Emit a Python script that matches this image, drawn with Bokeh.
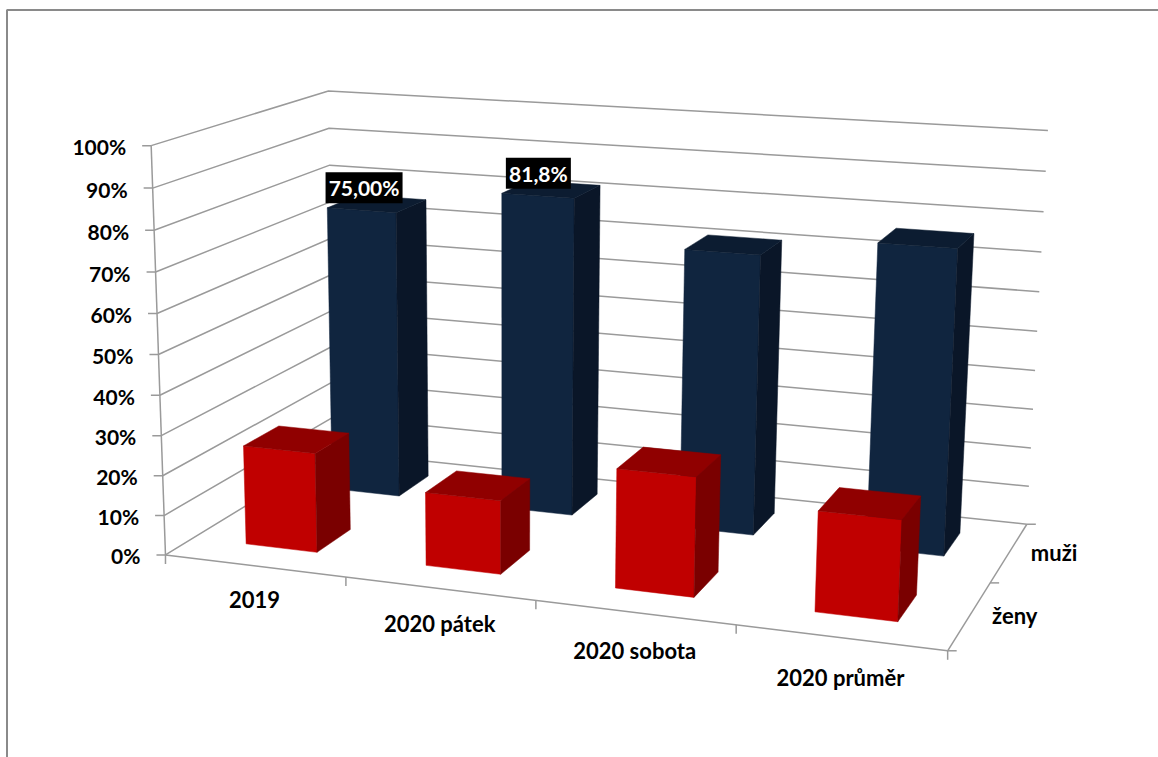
import numpy as np
from bokeh.core.properties import value
from bokeh.embed import file_html
from bokeh.models import Range1d
from bokeh.plotting import figure
from bokeh.resources import INLINE

# Chart data
categories = ["2019", "2020 pátek", "2020 sobota", "2020 průměr"]
series_names = ["muži", "ženy"]
muzi = [75.0, 81.8, 71.0, 76.0]
zeny = [25.0, 18.2, 29.0, 24.0]
value_ticks = [0, 10, 20, 30, 40, 50, 60, 70, 80, 90, 100]
bar_labels = {(0, "muzi"): "75,00%", (1, "muzi"): "81,8%"}

# Camera of the 3D plot box: reference points (category, depth, value) and where they appear
box_corners = [(0, 0, 0), (0, 0, 1), (0, 1, 0), (0, 1, 1), (1, 0, 0), (1, 1, 0), (1, 1, 1),
               (0, 0, .5), (0, 0, .3), (0, 0, .1), (0, 1, .9), (0, 1, .8),
               (1, 1, .9), (1, 1, .8), (1, 1, .7)]
box_screen = [(167.5, 553), (147, 147), (330, 456), (330, 90), (947, 654.5), (1027, 519), (1047, 130.5),
              (157, 353), (161, 434), (165.5, 513), (330, 127), (330, 164),
              (1045, 171), (1043, 212), (1041, 251)]


def solve_camera(world, screen):
    rows = []
    for (x, y, z), (u, v) in zip(world, screen):
        rows.append([x, y, z, 1, 0, 0, 0, 0, -u * x, -u * y, -u * z, -u])
        rows.append([0, 0, 0, 0, x, y, z, 1, -v * x, -v * y, -v * z, -v])
    return np.linalg.svd(np.array(rows, dtype=float))[2][-1].reshape(3, 4)


CAM = solve_camera(box_corners, box_screen)


def project(x, y, z):
    u, v, w = CAM @ np.array([x, y, z, 1.0])
    return u / w, v / w


p = figure(width=1158, height=757, output_backend="svg", toolbar_location=None,
           x_range=Range1d(0, 1158), y_range=Range1d(757, 0),
           min_border=0, outline_line_color=None, background_fill_color="white",
           border_fill_color="white")
p.axis.visible = False
p.grid.visible = False

FRAME = "#8a8a8a"
GRID = "#9a9a9a"
AXIS = "#9a9a9a"
FONT = value("Lato")
INK = "#000000"

# Chart area border (top and left edges)
p.line([6.5, 6.5, 1158], [757, 9.5, 9.5], line_color=FRAME, line_width=2)


def seg(a, b, color=GRID, width=1.5):
    p.line([a[0], b[0]], [a[1], b[1]], line_color=color, line_width=width)


# Gridlines on the left and back walls, ticks on the value axis
for t in value_ticks:
    z = t / 100
    a, b, c = project(0, 0, z), project(0, 1, z), project(1, 1, z)
    p.line([a[0], b[0], c[0]], [a[1], b[1], c[1]], line_color=GRID, line_width=1.5)
    seg((a[0] - 9, a[1]), a, AXIS)
    p.text([a[0] - 25], [a[1] + 1], text=[f"{t}%"], text_font=FONT, text_font_style="bold",
           text_font_size="21px", text_color=INK, text_align="right", text_baseline="middle")

# Floor edges and their ticks
seg(project(0, 0, 0), project(0, 0, 1), AXIS)
seg(project(0, 0, 0), project(1, 0, 0), AXIS)
seg(project(1, 0, 0), project(1, 1, 0), AXIS)
for i in range(len(categories) + 1):
    q = project(i / len(categories), 0, 0)
    seg(q, (q[0], q[1] + 9), AXIS)
for j in range(len(series_names) + 1):
    q = project(1, j / len(series_names), 0)
    seg(q, (q[0] + 9, q[1]), AXIS)

# Category and series labels
for i, name in enumerate(categories):
    frac = (i + 0.5) / len(categories)
    q = project(frac, 0, 0)
    p.text([q[0]], [q[1] + 32 + 9 * frac], text=[name], text_font=FONT, text_font_style="bold",
           text_font_size="22px", text_color=INK, text_align="center", text_baseline="middle")
for j, name in zip([1, 0], series_names):
    q = project(1, (j + 0.5) / len(series_names), 0)
    p.text([q[0] + 45], [q[1]], text=[name], text_font=FONT, text_font_style="bold",
           text_font_size="22px", text_color=INK, text_align="center", text_baseline="middle")


def draw_bar(cat, row, val, front, top, side):
    """Draw one bar as three projected faces; 150 % gaps on both floor directions."""
    n, m = len(categories), len(series_names)
    x0, x1 = (cat + 0.3) / n, (cat + 0.7) / n
    # The back row sits a touch further from the front edge
    nudge = 0.03 * row
    y0, y1 = (row + 0.3 + nudge) / m, (row + 0.7 + nudge) / m
    z = val / 100
    faces = [
        ([(x0, y0, 0), (x1, y0, 0), (x1, y0, z), (x0, y0, z)], front),
        ([(x1, y0, 0), (x1, y1, 0), (x1, y1, z), (x1, y0, z)], side),
        ([(x0, y0, z), (x1, y0, z), (x1, y1, z), (x0, y1, z)], top),
    ]
    for pts, color in faces:
        xy = [project(*pt) for pt in pts]
        p.patch([q[0] for q in xy], [q[1] for q in xy], fill_color=color, line_color=color, line_width=0.5)
    return project((x0 + x1) / 2, (y0 + y1) / 2, z)


label_anchor = {}
for i, v in enumerate(muzi):
    label_anchor[(i, "muzi")] = draw_bar(i, 1, v, "#10253f", "#0c1c31", "#0a1628")
for i, v in enumerate(zeny):
    label_anchor[(i, "zeny")] = draw_bar(i, 0, v, "#c00000", "#900000", "#7a0000")

# Data labels on black plates
for key, text in bar_labels.items():
    cx, cy = label_anchor[key]
    half = 38.5 if len(text) > 5 else 32.5
    cx, cy = cx - 13, cy - 16
    p.quad(left=[cx - half], right=[cx + half], top=[cy - 15.5], bottom=[cy + 15.5], fill_color="black", line_color=None)
    p.text([cx], [cy], text=[text], text_font=FONT, text_font_style="bold", text_font_size="21px",
           text_color="white", text_align="center", text_baseline="middle")

open("out.html", "w").write(file_html(p, INLINE))
